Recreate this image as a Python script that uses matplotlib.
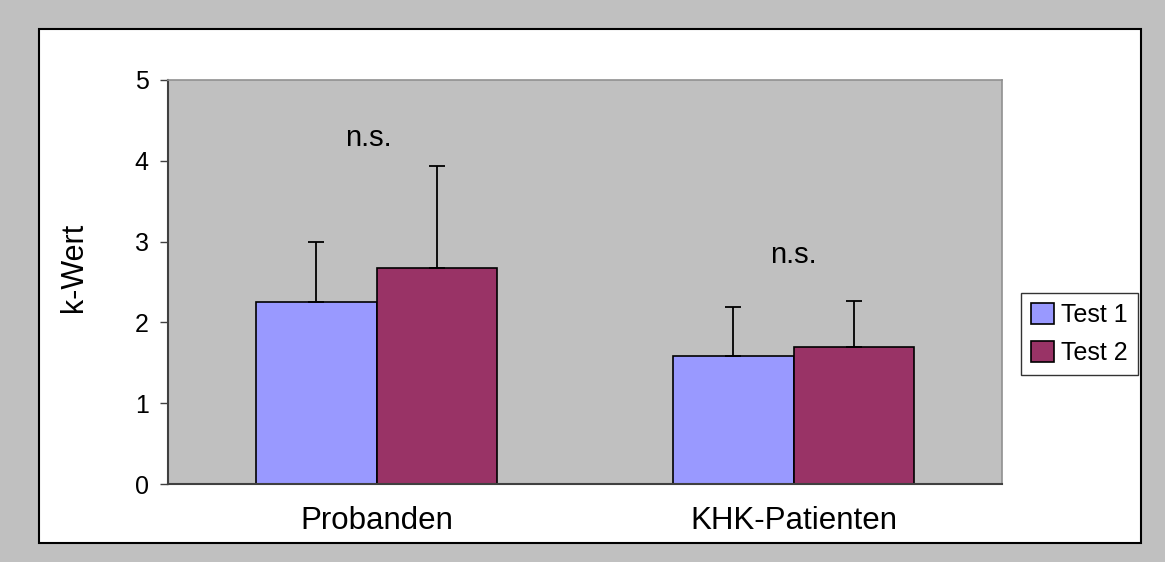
import numpy as np
import matplotlib
matplotlib.use("Agg")
from matplotlib import pyplot as plt
from matplotlib.patches import Rectangle

# data
categories = ['Probanden', 'KHK-Patienten']
series_names = ['Test 1', 'Test 2']
test1_mean = [2.25, 1.58]
test2_mean = [2.67, 1.69]
test1_err = [0.75, 0.61]
test2_err = [1.26, 0.58]
ns_labels = ['n.s.', 'n.s.']
ns_y = [4.28, 2.83]
y_ticks = [0, 1, 2, 3, 4, 5]

colors = ['#9999FF', '#993366']
W, H = 1165, 562

plt.rcParams['font.family'] = ['Liberation Sans', 'DejaVu Sans']

fig = plt.figure(figsize=(W / 100, H / 100), dpi=100, facecolor='#C0C0C0')

# white chart area with black border (behind the axes)
fig.patches.append(Rectangle((39 / W, 1 - 543 / H), (1141 - 39) / W, (543 - 29) / H,
                             transform=fig.transFigure, facecolor='white',
                             edgecolor='black', linewidth=1.5, zorder=-10))

ax = fig.add_axes([168 / W, 1 - 484 / H, (1002 - 168) / W, (484 - 80) / H])
ax.set_zorder(1)
ax.set_facecolor('#C0C0C0')

x = np.arange(len(categories))
bw = 0.288
means = [test1_mean, test2_mean]
errs = [test1_err, test2_err]
for i in range(2):
    pos = x + (i - 0.5) * bw
    ax.bar(pos, means[i], width=bw, color=colors[i], edgecolor='black',
           linewidth=1.2, label=series_names[i], zorder=2)
    ax.errorbar(pos, means[i], yerr=[np.zeros(len(x)), errs[i]], fmt='none',
                ecolor='black', elinewidth=1.3, capsize=6, capthick=1.3, zorder=3)

# significance labels
for i in range(len(categories)):
    ax.text(x[i] - 0.02 * (1 - i), ns_y[i], ns_labels[i], ha='center', va='center',
            fontsize=21)

ax.set_xlim(-0.5, 1.5)
ax.set_ylim(0, 5)
ax.set_yticks(y_ticks)
ax.set_yticklabels([str(t) for t in y_ticks], fontsize=18)
ax.tick_params(axis='y', direction='out', length=6, width=1, pad=8,
               colors='#404040', labelcolor='black')
ax.set_xticks(x)
ax.set_xticklabels(categories, fontsize=22.5)
ax.tick_params(axis='x', length=0, pad=16)

ax.set_ylabel('k-Wert', fontsize=22)
ax.yaxis.set_label_coords(-0.095, 0.535)

for side in ['left', 'bottom']:
    ax.spines[side].set_color('#404040')
    ax.spines[side].set_linewidth(1.5)
for side in ['top', 'right']:
    ax.spines[side].set_color('#909090')
    ax.spines[side].set_linewidth(1.2)

leg = fig.legend(loc='upper left', bbox_to_anchor=(1021 / W, 1 - 293 / H),
                 fontsize=18, frameon=True, fancybox=False, shadow=False,
                 handlelength=0.9, handleheight=0.9, handletextpad=0.3,
                 borderpad=0.4, labelspacing=0.55, borderaxespad=0)
leg.get_frame().set_edgecolor('black')
leg.get_frame().set_linewidth(1.0)

fig.savefig('out.png', dpi=100, facecolor=fig.get_facecolor())
